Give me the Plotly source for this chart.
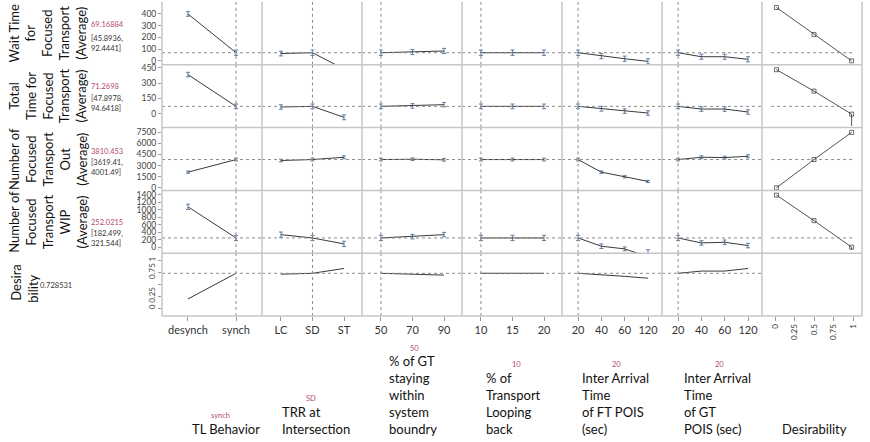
import plotly.graph_objects as go
from plotly.subplots import make_subplots

# ---------------- data ----------------
tl_behavior = ["desynch", "synch"]
trr_levels = ["LC", "SD", "ST"]
gt_staying = ["50", "70", "90"]
looping_back = ["10", "15", "20"]
ft_arrival = ["20", "40", "60", "120"]
gt_arrival = ["20", "40", "60", "120"]
factor_levels = [tl_behavior, trr_levels, gt_staying, looping_back, ft_arrival, gt_arrival]
current_level = ["synch", "SD", "50", "10", "20", "20"]

factor_titles = [
    ["TL Behavior"],
    ["TRR at", "Intersection"],
    ["% of GT", "staying", "within", "system", "boundry"],
    ["% of", "Transport", "Looping", "back"],
    ["Inter Arrival", "Time", "of FT POIS", "(sec)"],
    ["Inter Arrival", "Time", "of GT", "POIS (sec)"],
    ["Desirability"],
]

response_titles = [
    ["Wait Time", "for", "Focused", "Transport", "(Average)"],
    ["Total", "Time for", "Focused", "Transport", "(Average)"],
    ["Number of", "Focused", "Transport", "Out", "(Average)"],
    ["Number of", "Focused", "Transport", "WIP", "(Average)"],
    ["Desira", "bility"],
]
current_response_text = ["69.16884", "71.2698", "3810.453", "252.0215", "0.728531"]
current_response = [69.16884, 71.2698, 3810.453, 252.0215, 0.728531]
ci_low_text = ["45.8936", "47.8978", "3619.41", "182.499"]
ci_high_text = ["92.4441", "94.6418", "4001.49", "321.544"]

# profile traces: one list per factor (column)
wait_time = [[400, 69.17], [62, 69.17, -70], [69.17, 75, 84], [69.17, 69.5, 69.3],
             [69.17, 41, 18, -5], [69.17, 35, 35, 13]]
wait_err = [[20, 23], [20, 23, 25], [23, 22, 22], [23, 23, 23],
            [23, 23, 22, 22], [23, 22, 22, 22]]
total_time = [[383, 71.27], [65, 71.27, -36], [71.27, 76, 88], [71.27, 71.5, 71.3],
              [71.27, 48, 25, 6], [71.27, 45, 45, 16]]
total_err = [[22, 23], [22, 23, 24], [23, 22, 22], [23, 23, 23],
             [23, 23, 22, 22], [23, 22, 22, 22]]
num_out = [[2110, 3810], [3680, 3810, 4120], [3810, 3850, 3780], [3810, 3815, 3810],
           [3810, 2110, 1490, 860], [3810, 4120, 4080, 4250]]
out_err = [[150, 190], [180, 190, 200], [190, 180, 180], [190, 190, 190],
           [190, 160, 150, 140], [190, 200, 190, 200]]
num_wip = [[1080, 252], [340, 252, 94], [252, 287, 340], [252, 252, 252],
           [252, 32, -38, -250], [252, 120, 138, 50]]
wip_err = [[70, 70], [70, 70, 70], [70, 60, 60], [70, 70, 70],
           [70, 60, 50, 190], [70, 60, 60, 60]]
desirability = [[0.19, 0.7285], [0.71, 0.7285, 0.83], [0.7285, 0.715, 0.69],
                [0.7285, 0.7285, 0.7285], [0.7285, 0.70, 0.665, 0.625],
                [0.7285, 0.775, 0.775, 0.83]]

# desirability functions (x = desirability, y = response)
des_x = [[0.0183, 0.5, 0.9817],
         [0.0183, 0.5, 0.9817, 0.9817],
         [0.0183, 0.5, 0.9817],
         [0.0183, 0.5, 0.9817, 0.9817]]
des_y = [[455, 224, 0],
         [431, 221, -5, -120],
         [0, 3810, 7470],
         [1390, 712, 8, -60]]

row_ticks = [[0, 100, 200, 300, 400],
             [0, 150, 300, 450],
             [0, 1500, 3000, 4500, 6000, 7500],
             [0, 200, 400, 600, 800, 1000, 1200, 1400],
             [0, 0.25, 0.5, 0.75, 1]]
row_ticktext = [None, None, None, None, ["0", "0.25", "", "0.75", "1"]]
des_ticks = [0, 0.25, 0.5, 0.75, 1]
des_ticktext = ["0", "0.25", "0.5", "0.75", "1"]

# ---------------- layout constants ----------------
W, H = 870, 442
L, R, T, B = 162, 8, 0, 126
PW, PH = W - L - R, H - T - B
row_ranges = [[-34, 502], [-137, 479], [-350, 8120], [-153, 1516], [-0.167, 1.15]]
col_ranges = [[-0.54, 1.54], [-0.6, 2.57], [-0.6, 2.57], [-0.6, 2.57],
              [-0.69, 3.6], [-0.69, 3.6], [-0.167, 1.115]]

FONT = "Lato"
LINE_C = "#3a3a3a"
ERR_C = "#5f7ea6"
DOT_C = "#8a8a8a"
BORDER_C = "#c6c6c6"
RED = "#b5486c"


def px(x):
    return (x - L) / PW


def py(y):
    return 1 - (y - T) / PH


def sfx(n):
    return "" if n == 1 else str(n)


fig = make_subplots(rows=5, cols=7, horizontal_spacing=0, vertical_spacing=0)

responses = [wait_time, total_time, num_out, num_wip, desirability]
errors = [wait_err, total_err, out_err, wip_err, None]

for r in range(5):
    for c in range(6):
        n = len(factor_levels[c])
        tr = go.Scatter(x=list(range(n)), y=responses[r][c], mode="lines",
                        line=dict(color=LINE_C, width=1), hoverinfo="skip",
                        showlegend=False)
        if errors[r] is not None:
            tr.error_y = dict(type="data", array=errors[r][c], color=ERR_C,
                              thickness=1, width=2)
        fig.add_trace(tr, row=r + 1, col=c + 1)
    if r < 4:
        sizes = [4, 4, 4, 0][:len(des_x[r])]
        fig.add_trace(go.Scatter(x=des_x[r], y=des_y[r], mode="lines+markers",
                                 line=dict(color="#555", width=1),
                                 marker=dict(symbol="square-open", size=sizes,
                                             color="#333", line=dict(width=1)),
                                 hoverinfo="skip", showlegend=False),
                      row=r + 1, col=7)
    else:
        # empty cell: keep its axis drawn
        fig.add_trace(go.Scatter(x=des_ticks, y=[None] * len(des_ticks), mode="lines",
                                 hoverinfo="skip", showlegend=False),
                      row=5, col=7)

shapes = []
for r in range(5):
    for c in range(7):
        idx = r * 7 + c + 1
        s = sfx(idx)
        bottom = (r == 4)
        left = (c == 0)
        xa = dict(range=col_ranges[c], showgrid=False, zeroline=False, showline=False,
                  fixedrange=True, showticklabels=bottom,
                  ticks="outside" if bottom else "", ticklen=4, tickcolor="#999")
        if c < 6:
            xa.update(tickvals=list(range(len(factor_levels[c]))),
                      ticktext=factor_levels[c],
                      tickfont=dict(family=FONT, size=11, color="#333"))
        else:
            xa.update(tickvals=des_ticks, ticktext=des_ticktext, tickangle=-90,
                      tickfont=dict(family=FONT, size=8, color="#333"))
        fig.update_xaxes(xa, row=r + 1, col=c + 1)
        ya = dict(range=row_ranges[r], showgrid=False, zeroline=False, showline=False,
                  fixedrange=True, showticklabels=left,
                  ticks="outside" if left else "", ticklen=3, tickcolor="#999",
                  tickvals=row_ticks[r],
                  tickfont=dict(family=FONT, size=8.5 if r < 4 else 8, color="#444"))
        if row_ticktext[r] is not None:
            ya.update(ticktext=row_ticktext[r], tickangle=-90)
        fig.update_yaxes(ya, row=r + 1, col=c + 1)

        # dotted reference lines: current response / current factor setting
        if c < 6:
            shapes.append(dict(type="line", xref=f"x{s} domain", x0=0, x1=1,
                               yref=f"y{s}", y0=current_response[r], y1=current_response[r],
                               line=dict(color=DOT_C, width=1, dash="dot")))
            cur_idx = factor_levels[c].index(current_level[c])
            shapes.append(dict(type="line", xref=f"x{s}", x0=cur_idx, x1=cur_idx,
                               yref=f"y{s} domain", y0=0, y1=1,
                               line=dict(color=DOT_C, width=1, dash="dot")))
        elif r < 4:
            shapes.append(dict(type="line", xref=f"x{s}", x0=-0.05, x1=1.0,
                               yref=f"y{s}", y0=current_response[r], y1=current_response[r],
                               line=dict(color=DOT_C, width=1, dash="dot")))

# panel borders
for k in range(8):
    shapes.append(dict(type="line", xref="paper", yref="paper", x0=k / 7, x1=k / 7,
                       y0=0, y1=1, line=dict(color=BORDER_C, width=1.5)))
for k in range(5):
    shapes.append(dict(type="line", xref="paper", yref="paper", x0=0, x1=1,
                       y0=k / 5, y1=k / 5, line=dict(color=BORDER_C, width=1.5)))

annotations = []
row_h = PH / 5
# response titles (rotated)
for r in range(4):
    annotations.append(dict(xref="paper", yref="paper", x=px(48), y=py((r + 0.5) * row_h),
                            xanchor="center", yanchor="middle",
                            text="<br>".join(response_titles[r]), textangle=-90,
                            showarrow=False, align="center",
                            font=dict(family=FONT, size=13, color="#111")))
for lx, ly, word in zip([16, 33], [282.5, 288.5], response_titles[4]):
    annotations.append(dict(xref="paper", yref="paper", x=px(lx), y=py(ly),
                            xanchor="center", yanchor="middle", text=word,
                            textangle=-90, showarrow=False,
                            font=dict(family=FONT, size=13, color="#111")))

val_y = [[23, 37, 47], [85, 97, 107], [150, 162, 172], [222, 233, 243]]
for r in range(4):
    annotations.append(dict(xref="paper", yref="paper", x=px(89), y=py(val_y[r][0]),
                            xanchor="left", yanchor="middle",
                            text=current_response_text[r], showarrow=False,
                            font=dict(family=FONT, size=7.5, color=RED)))
    annotations.append(dict(xref="paper", yref="paper", x=px(89), y=py(val_y[r][1]),
                            xanchor="left", yanchor="middle",
                            text="[" + ci_low_text[r] + ",", showarrow=False,
                            font=dict(family=FONT, size=7.5, color="#333")))
    annotations.append(dict(xref="paper", yref="paper", x=px(89), y=py(val_y[r][2]),
                            xanchor="left", yanchor="middle",
                            text=ci_high_text[r] + "]", showarrow=False,
                            font=dict(family=FONT, size=7.5, color="#333")))
annotations.append(dict(xref="paper", yref="paper", x=px(38), y=py(285),
                        xanchor="left", yanchor="middle",
                        text=current_response_text[4], showarrow=False,
                        font=dict(family=FONT, size=7.5, color="#333")))

# factor titles at the bottom
title_left = [190, 280, 387, 484, 580, 682, 780]
red_offset = [30, 31, 27, 32, 36, 37]
for c in range(7):
    lines = factor_titles[c]
    annotations.append(dict(xref="paper", yref="paper", x=px(title_left[c]), y=py(440),
                            xanchor="left", yanchor="bottom", align="left",
                            text="<br>".join(lines), showarrow=False,
                            font=dict(family=FONT, size=13, color="#111")))
    if c < 6:
        ytop = 431 - (len(lines) - 1) * 16.9 - 15
        annotations.append(dict(xref="paper", yref="paper", x=px(title_left[c] + red_offset[c]),
                                y=py(ytop), xanchor="center", yanchor="middle",
                                text=current_level[c], showarrow=False,
                                font=dict(family=FONT, size=7.5, color=RED)))

fig.update_layout(width=W, height=H, margin=dict(l=L, r=R, t=T, b=B),
                  paper_bgcolor="white", plot_bgcolor="white",
                  shapes=shapes, annotations=annotations, showlegend=False,
                  font=dict(family=FONT))

fig.write_html("out.html")
